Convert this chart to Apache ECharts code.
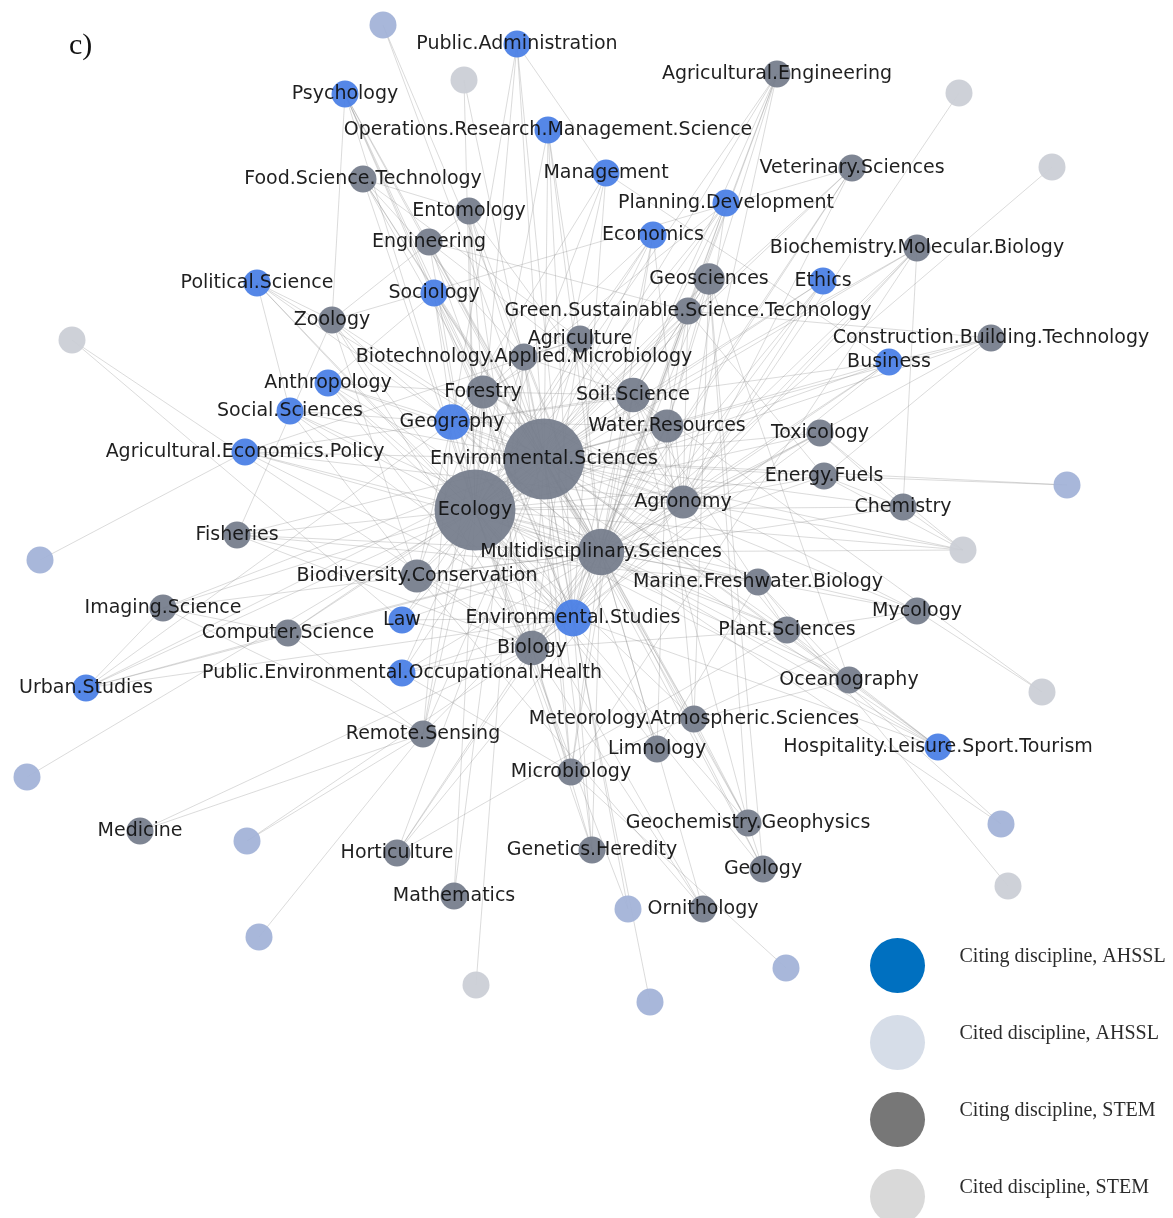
<!DOCTYPE html>
<html>
<head>
<meta charset="utf-8">
<title>Citation network</title>
<script src="https://cdn.jsdelivr.net/npm/echarts@6/dist/echarts.min.js"></script>
<style>
  html, body { margin: 0; padding: 0; background: #fff; }
  #chart { width: 1173px; height: 1218px; }
</style>
</head>
<body>
<div id="chart"></div>
<script>
// Node groups (legend order)
const groupNames = [
  'Citing discipline, AHSSL',
  'Cited discipline, AHSSL',
  'Citing discipline, STEM',
  'Cited discipline, STEM'
];

// Citing disciplines, AHSSL: [id, label, layoutX, layoutY, weight]
const citingAHSSL = [
  ['PA', 'Public.Administration', -27, 415, 1],
  ['PSY', 'Psychology', -199, 365, 1],
  ['ORM', 'Operations.Research.Management.Science', 4, 329, 1],
  ['MGT', 'Management', 62, 286, 1],
  ['PD', 'Planning.Development', 182, 256, 1],
  ['ECO', 'Economics', 109, 224, 1],
  ['POL', 'Political.Science', -287, 176, 1],
  ['SOC', 'Sociology', -110, 166, 1],
  ['ETH', 'Ethics', 279, 178, 1],
  ['BUS', 'Business', 345, 97, 1],
  ['ANT', 'Anthropology', -216, 76, 1],
  ['SSC', 'Social.Sciences', -254, 48, 1],
  ['GEO', 'Geography', -92, 37, 6],
  ['AEP', 'Agricultural.Economics.Policy', -299, 7, 1],
  ['LAW', 'Law', -142, -161, 1],
  ['EST', 'Environmental.Studies', 29, -159, 7],
  ['PEO', 'Public.Environmental.Occupational.Health', -142, -214, 1],
  ['URB', 'Urban.Studies', -458, -229, 1],
  ['HOS', 'Hospitality.Leisure.Sport.Tourism', 394, -288, 1]
];

// Citing disciplines, STEM
const citingSTEM = [
  ['ES', 'Environmental.Sciences', 0, 0, 100],
  ['EC', 'Ecology', -69, -51, 100],
  ['MS', 'Multidisciplinary.Sciences', 57, -93, 18],
  ['AEN', 'Agricultural.Engineering', 233, 385, 1],
  ['FST', 'Food.Science.Technology', -181, 280, 1],
  ['VET', 'Veterinary.Sciences', 308, 291, 1],
  ['ENT', 'Entomology', -75, 248, 1],
  ['ENG', 'Engineering', -115, 217, 1],
  ['BMB', 'Biochemistry.Molecular.Biology', 373, 211, 1],
  ['GSC', 'Geosciences', 165, 180, 3],
  ['ZOO', 'Zoology', -212, 139, 1],
  ['GSS', 'Green.Sustainable.Science.Technology', 144, 148, 1],
  ['AGR', 'Agriculture', 36, 120, 1],
  ['BAM', 'Biotechnology.Applied.Microbiology', -20, 102, 1],
  ['CBT', 'Construction.Building.Technology', 447, 121, 1],
  ['FOR', 'Forestry', -61, 67, 4],
  ['SOIL', 'Soil.Science', 89, 64, 5],
  ['WR', 'Water.Resources', 123, 33, 4],
  ['TOX', 'Toxicology', 276, 26, 1],
  ['EF', 'Energy.Fuels', 280, -17, 1],
  ['AGN', 'Agronomy', 139, -43, 4],
  ['CHEM', 'Chemistry', 359, -48, 1],
  ['FISH', 'Fisheries', -307, -76, 1],
  ['BC', 'Biodiversity.Conservation', -127, -117, 4],
  ['MFB', 'Marine.Freshwater.Biology', 214, -123, 1],
  ['MYC', 'Mycology', 373, -152, 1],
  ['IMG', 'Imaging.Science', -381, -149, 1],
  ['CS', 'Computer.Science', -256, -174, 1],
  ['PS', 'Plant.Sciences', 243, -171, 1],
  ['BIO', 'Biology', -12, -189, 5],
  ['OCE', 'Oceanography', 305, -221, 1],
  ['RS', 'Remote.Sensing', -121, -275, 1],
  ['MET', 'Meteorology.Atmospheric.Sciences', 150, -260, 1],
  ['LIM', 'Limnology', 113, -290, 1],
  ['MIC', 'Microbiology', 27, -313, 1],
  ['MED', 'Medicine', -404, -372, 1],
  ['GGP', 'Geochemistry.Geophysics', 204, -364, 1],
  ['HOR', 'Horticulture', -147, -394, 1],
  ['GEN', 'Genetics.Heredity', 48, -391, 1],
  ['GEOL', 'Geology', 219, -410, 1],
  ['MATH', 'Mathematics', -90, -437, 1],
  ['ORN', 'Ornithology', 159, -450, 1]
];

// Cited-only disciplines (unlabelled outer ring)
const citedAHSSL = [
  ['AH1', -161, 434, 1], ['AH2', -504, -101, 1], ['AH3', -517, -318, 1],
  ['AH4', -297, -382, 1], ['AH5', -285, -478, 1], ['AH6', 84, -450, 1],
  ['AH7', 106, -543, 1], ['AH8', 242, -509, 1], ['AH9', 457, -365, 1],
  ['AH10', 523, -26, 1]
];
const citedSTEM = [
  ['ST1', -80, 379, 1], ['ST2', 415, 366, 1], ['ST3', 508, 292, 1],
  ['ST4', -472, 119, 1], ['ST5', 419, -91, 1], ['ST6', 498, -233, 1],
  ['ST7', 464, -427, 1], ['ST8', -68, -526, 1]
];

// Citation links: citing discipline -> cited disciplines
const citations = {
  PA: 'ES EC EST GEO MGT',
  PSY: 'ES EC MS SOC EST FOR ZOO',
  ORM: 'ES EC MS EST AGR',
  MGT: 'ES EC EST GEO BUS',
  PD: 'ES EC MS EST GEO AGN SOIL',
  ECO: 'ES EC MS EST GEO AGR AGN',
  POL: 'ES EC ZOO EST GEO SSC',
  SOC: 'ES EC MS EST GEO FOR ANT',
  ETH: 'ES EC MS EST AGN',
  BUS: 'ES EC MS EST GEO AGN CBT',
  ANT: 'ES EC MS GEO EST FOR BIO',
  SSC: 'ES EC MS GEO EST BC',
  GEO: 'ES EC MS EST FOR SOIL BC WR AGN',
  AEP: 'ES EC MS AGN AGR EST GEO AH2',
  LAW: 'ES EC MS EST BIO ST4',
  EST: 'ES EC MS GEO BIO AGN WR FOR SOIL BC AH7',
  PEO: 'ES EC MS EST BIO MIC',
  URB: 'ES EC MS GEO EST CS IMG',
  HOS: 'ES EC MS EST GEO OCE PS',
  AEN: 'ES EC MS AGN SOIL WR GSS',
  FST: 'ES EC MS AGR BAM FOR ENT',
  VET: 'ES EC MS AGN BIO ZOO',
  ENT: 'ES EC MS BIO FOR ZOO AGN',
  ENG: 'ES EC MS WR GSS FOR',
  BMB: 'ES EC MS BIO MIC AGN CHEM',
  GSC: 'ES EC MS WR SOIL GSS',
  ZOO: 'ES EC MS BIO BC FISH',
  GSS: 'ES EC MS AGN SOIL WR EST',
  AGR: 'ES EC MS AGN SOIL FOR BIO',
  BAM: 'ES EC MS MIC AGR SOIL AH1 ST8',
  CBT: 'ES EC MS GSS EF',
  FOR: 'ES EC MS SOIL BC AGN',
  SOIL: 'ES EC MS AGN AGR FOR WR ST6',
  WR: 'ES EC MS SOIL AGN LIM MET EST BIO',
  TOX: 'ES EC MS CHEM BIO AGN ST5',
  ES: 'EC MS BIO GEO AGN SOIL WR FOR EST MFB PS TOX AH1 ST1 AH6 AH10 ST5',
  EF: 'ES EC MS GSS CHEM AGN ST5 AH10',
  EC: 'ES MS BIO BC FOR ZOO GEO EST ENT FISH MFB AGN WR SOIL ST1 AH3 AH6 ST5',
  AGN: 'ES EC MS SOIL AGR PS WR FOR BIO ST2 ST5',
  CHEM: 'ES EC MS TOX EF BMB ST5',
  FISH: 'ES EC MS MFB BC BIO',
  MS: 'ES EC BIO GEO AGN EST WR BC FOR SOIL MFB PS CHEM ST3 AH9 ST5',
  BC: 'ES EC MS FOR ZOO BIO',
  MFB: 'ES EC MS OCE FISH LIM ST7',
  MYC: 'ES EC MS PS MIC FOR ST6',
  IMG: 'ES EC MS RS CS',
  CS: 'ES EC MS RS IMG',
  PS: 'ES EC MS AGN SOIL BIO AH9',
  BIO: 'ES EC MS GEN ZOO BC FOR MIC ST4 AH4',
  OCE: 'ES EC MS MFB GSC MET',
  RS: 'ES EC MS GEO FOR AH4 AH5',
  MET: 'ES EC MS WR GSC',
  LIM: 'ES EC MS WR MFB',
  MIC: 'ES EC MS BIO SOIL BAM AH8',
  MED: 'RS BIO',
  GGP: 'ES EC MS GSC SOIL MET',
  HOR: 'ES MS BIO AGN PS',
  GEN: 'ES EC MS BIO EST',
  GEOL: 'ES EC MS GSC GGP',
  MATH: 'EC BAM',
  ORN: 'EC MS BIO BC'
};

// ---- build graph data ----
const nodeColors = ['#4a7fe6', '#a3b3d8', '#767d8c', '#cbced6'];
const legendColors = ['#0070c0', '#d6dde8', '#777777', '#d9d9d9'];

const rows = [];
citingAHSSL.forEach(r => rows.push({ id: r[0], label: r[1], x: r[2], y: r[3], w: r[4], g: 0 }));
citedAHSSL.forEach(r => rows.push({ id: r[0], label: '', x: r[1], y: r[2], w: r[3], g: 1 }));
citingSTEM.forEach(r => rows.push({ id: r[0], label: r[1], x: r[2], y: r[3], w: r[4], g: 2 }));
citedSTEM.forEach(r => rows.push({ id: r[0], label: '', x: r[1], y: r[2], w: r[3], g: 3 }));
// larger nodes first so smaller nodes and labels sit on top
rows.sort((a, b) => b.w - a.w);

const indexOf = {};
rows.forEach((r, i) => { indexOf[r.id] = i; });

// node diameter grows with the square root of its weight
const nodeSize = w => 21 + 6 * Math.sqrt(w);

const nodes = rows.map(r => ({
  name: r.label || r.id,
  value: [r.x, r.y],
  category: r.g,
  symbolSize: nodeSize(r.w),
  itemStyle: { color: nodeColors[r.g], opacity: 0.94 },
  label: { show: r.g === 0 || r.g === 2 }
}));

const seen = new Set();
const links = [];
Object.keys(citations).forEach(src => {
  citations[src].split(' ').forEach(tgt => {
    const a = indexOf[src], b = indexOf[tgt];
    const key = Math.min(a, b) + '-' + Math.max(a, b);
    if (seen.has(key)) return;
    seen.add(key);
    links.push({ source: a, target: b });
  });
});

const chart = echarts.init(document.getElementById('chart'), null, { renderer: 'canvas' });
chart.setOption({
  backgroundColor: '#ffffff',
  animation: false,
  title: {
    text: 'c)',
    left: 64, top: 26,
    textStyle: { fontFamily: 'Liberation Serif', fontSize: 30, fontWeight: 'normal', color: '#111' }
  },
  grid: { left: 0, right: 0, top: 0, bottom: 0 },
  xAxis: { type: 'value', min: -544, max: 629, show: false },
  yAxis: { type: 'value', min: -759, max: 459, show: false },
  legend: {
    orient: 'vertical',
    left: 870, top: 938,
    height: 400,
    padding: 0,
    itemWidth: 114, itemHeight: 55, itemGap: 22,
    icon: 'circle',
    selectedMode: false,
    data: groupNames.map((n, i) => ({ name: n, itemStyle: { color: legendColors[i], opacity: 1 } })),
    formatter: n => '{t|' + n + '}',
    textStyle: {
      fontFamily: 'Liberation Serif', fontSize: 20, color: '#333',
      rich: { t: { fontFamily: 'Liberation Serif', fontSize: 20, color: '#2b2b2b', padding: [0, 0, 18, 0] } }
    }
  },
  series: [{
    type: 'graph',
    coordinateSystem: 'cartesian2d',
    layout: 'none',
    silent: true,
    symbol: 'circle',
    categories: groupNames.map((n, i) => ({ name: n, itemStyle: { color: nodeColors[i] } })),
    data: nodes,
    links: links,
    lineStyle: { color: '#8a8a8a', opacity: 0.34, width: 0.9, curveness: 0 },
    label: {
      show: true,
      position: 'inside',
      offset: [0, 2],
      formatter: '{b}',
      fontFamily: 'DejaVu Sans',
      fontSize: 19,
      color: '#111'
    },
    labelLayout: { hideOverlap: false }
  }]
});
</script>
</body>
</html>
